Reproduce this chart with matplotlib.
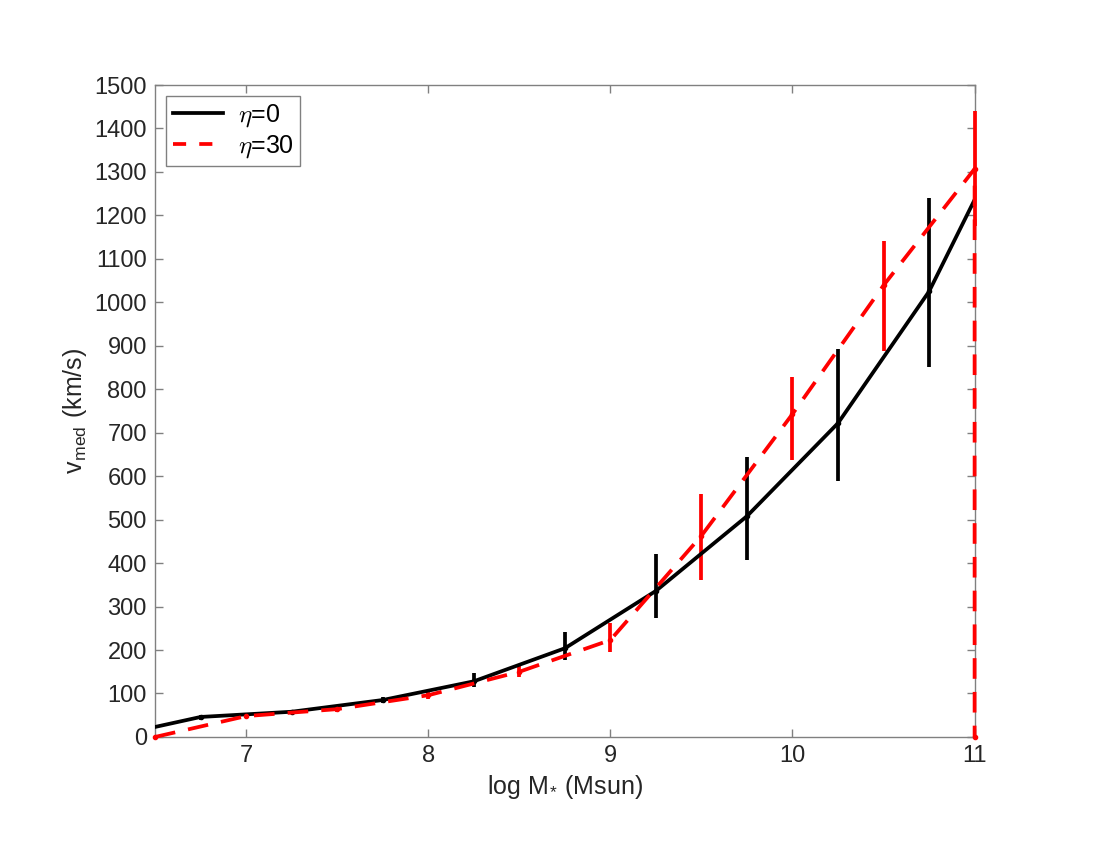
import matplotlib
matplotlib.use("Agg")
import matplotlib.pyplot as plt
from matplotlib.lines import Line2D
import numpy as np

plt.rcParams['font.family'] = ['Liberation Sans', 'DejaVu Sans']
plt.rcParams['mathtext.fontset'] = 'cm'

# eta = 0 (black, solid)
logm_0 = [6.25, 6.75, 7.25, 7.75, 8.25, 8.75, 9.25, 9.75, 10.25, 10.75, 11.25]
vmed_0 = [0, 46, 58, 85, 128, 204, 336, 508, 722, 1025, 1447]
lo_0 = [0, 40, 52, 79, 115, 178, 274, 408, 589, 851, 1447]
hi_0 = [0, 51, 63, 92, 146, 242, 421, 644, 892, 1241, 1447]

# eta = 30 (red, dashed); last bin drops to zero
logm_30 = [6.5, 7.0, 7.5, 8.0, 8.5, 9.0, 9.5, 10.0, 10.5, 11.0, 11.0]
vmed_30 = [0, 48, 64, 96, 150, 223, 463, 743, 1039, 1307, 0]
lo_30 = [0, 43, 57, 88, 137, 196, 362, 637, 889, 1175, 0]
hi_30 = [0, 52, 69, 106, 165, 262, 558, 829, 1142, 1440, 0]

fig = plt.figure(figsize=(11, 8.5), dpi=100)
ax = fig.add_axes([0.141, 0.133, 0.745, 0.767])

dash = (0, (5.5, 3.5))

def draw(x, y, lo, hi, color, ls, clip):
    y = np.array(y, float)
    yerr = [y - np.array(lo, float), np.array(hi, float) - y]
    line, caps, bars = ax.errorbar(x, y, yerr=yerr, color=color, lw=2.7,
                                   elinewidth=2.7, capsize=0, marker='.',
                                   markersize=6, clip_on=clip, zorder=3)
    line.set_linestyle(ls)

draw(logm_0, vmed_0, lo_0, hi_0, 'black', '-', True)
draw(logm_30, vmed_30, lo_30, hi_30, 'red', dash, False)

ax.set_xlim(6.5, 11)
ax.set_ylim(0, 1500)
ax.set_xticks([7, 8, 9, 10, 11])
ax.set_yticks(np.arange(0, 1501, 100))

gray = '#808080'
for s in ax.spines.values():
    s.set_color(gray)
    s.set_linewidth(1.0)
ax.tick_params(direction='in', top=True, right=True, length=6, width=1,
               color=gray, labelcolor='#262626', labelsize=17, pad=6)
ax.set_xlabel(r'log M$_{\mathregular{*}}$ (Msun)', fontsize=18, color='#262626')
ax.set_ylabel(r'v$_{\mathregular{med}}$ (km/s)', fontsize=18, color='#262626')

handles = [Line2D([], [], color='black', lw=2.7),
           Line2D([], [], color='red', lw=2.7, linestyle=(0, (3.5, 3.5)))]
leg = ax.legend(handles, [r'$\eta$=0', r'$\eta$=30'], loc='upper left',
                fontsize=18, fancybox=False, edgecolor=gray, framealpha=1,
                handlelength=2.0, handletextpad=0.6, borderpad=0.25,
                labelspacing=0.15, borderaxespad=0.45)
leg.get_frame().set_linewidth(1.0)

fig.savefig('out.png', dpi=100)
